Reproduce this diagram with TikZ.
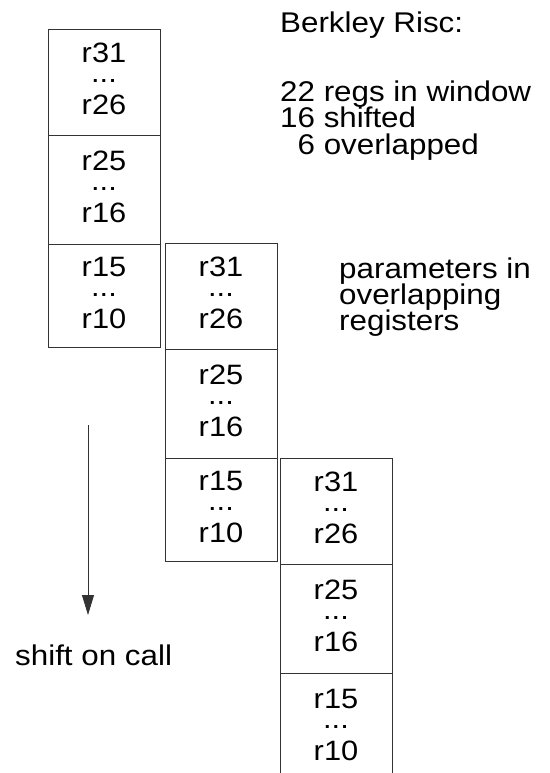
\documentclass[tikz,border=0pt]{standalone}
\usepackage{fontspec}
\setmainfont{Liberation Sans}[FakeStretch=1.1]
\usetikzlibrary{arrows.meta}
\begin{document}
\begin{tikzpicture}[x=1pt,y=-1pt,
  regbox/.style={draw=black!80, line width=0.9pt, minimum width=112pt, inner sep=0pt,
    align=center, text depth=6pt, font=\fontsize{28}{26}\selectfont},
  sidetext/.style={anchor=base west, inner sep=0pt, font=\fontsize{28.5}{27}\selectfont},
  shiftarrow/.style={draw=black!80, line width=0.9pt, -{Triangle[length=20pt,width=12pt]}}]
\useasboundingbox (0,0) rectangle (549,773);
\clip (0,0) rectangle (549,773);
\newcommand{\regs}[2]{r#1\\[-6pt]...\\[6pt]r#2}
% column 1
\node[regbox, minimum height=106pt] (a1) at (104,82)    {\regs{31}{26}};
\node[regbox, minimum height=109pt] (a2) at (104,189.5) {\regs{25}{16}};
\node[regbox, minimum height=103pt] (a3) at (104,295.5) {\regs{15}{10}};
% column 2
\node[regbox, minimum height=106pt] (b1) at (221,296)   {\regs{31}{26}};
\node[regbox, minimum height=109pt] (b2) at (221,403.5) {\regs{25}{16}};
\node[regbox, minimum height=103pt] (b3) at (221,509.5) {\regs{15}{10}};
% column 3
\node[regbox, minimum height=106pt] (c1) at (336,511)   {\regs{31}{26}};
\node[regbox, minimum height=109pt] (c2) at (336,618.5) {\regs{25}{16}};
\node[regbox, minimum height=109pt] (c3) at (336,727.5) {\regs{15}{10}};
% side texts
\node[sidetext] (t0) at (280,33)  {Berkley Risc:};
\node[sidetext] (t1) at (280,102) {22 regs in window};
\node[sidetext] (t2) at (280,128) {16 shifted};
\node[sidetext] (t3) at (280,154) {\phantom{1}6 overlapped};
\node[sidetext] (p1) at (339,278) {parameters in};
\node[sidetext] (p2) at (339,304) {overlapping};
\node[sidetext] (p3) at (339,330) {registers};
% shift arrow
\coordinate (arrS) at (88,425);
\coordinate (arrE) at (88,615);
\draw[shiftarrow] (arrS) -- (arrE);
\node[sidetext] (shift) at (15,665) {shift on call};
\end{tikzpicture}
\end{document}
